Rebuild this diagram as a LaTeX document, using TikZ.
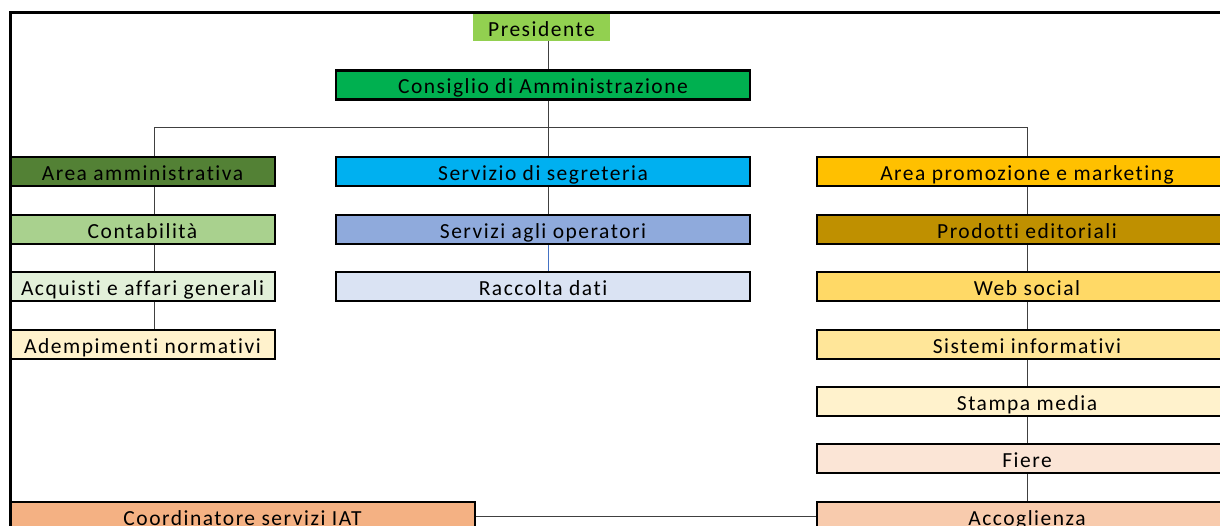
\documentclass[tikz,border=0pt]{standalone}
\usepackage{fontspec}
\setmainfont[LetterSpace=7,Ligatures=NoCommon]{Carlito}
\definecolor{cPres}{HTML}{92D050}
\definecolor{cCda}{HTML}{00B050}
\definecolor{cAmm}{HTML}{538135}
\definecolor{cSeg}{HTML}{00B0F0}
\definecolor{cProm}{HTML}{FFC000}
\definecolor{cCont}{HTML}{A9D18E}
\definecolor{cOper}{HTML}{8FAADC}
\definecolor{cEdit}{HTML}{BF9000}
\definecolor{cAcq}{HTML}{E2F0D9}
\definecolor{cRacc}{HTML}{DAE3F3}
\definecolor{cWeb}{HTML}{FFD966}
\definecolor{cAdem}{HTML}{FFF2CC}
\definecolor{cSist}{HTML}{FFE699}
\definecolor{cStam}{HTML}{FFF2CC}
\definecolor{cFier}{HTML}{FBE5D6}
\definecolor{cCoord}{HTML}{F4B183}
\definecolor{cAcc}{HTML}{F8CBAD}
\definecolor{cLine}{HTML}{404040}
\definecolor{cBlue}{HTML}{4472C4}
\tikzset{
  orgtext/.style={font=\fontsize{21.5}{24}\selectfont, text=black, text height=18pt, text depth=0pt},
  orgbox/.style={orgtext, draw=black, line width=2.5pt, minimum height=29pt, inner sep=0pt},
  leftbox/.style={orgbox, minimum width=265pt},
  midbox/.style={orgbox, minimum width=414pt},
  rightbox/.style={orgbox, minimum width=420pt},
  link/.style={draw=cLine, line width=1pt},
}
\begin{document}
\begin{tikzpicture}[x=1pt,y=-1pt]
\useasboundingbox (0,0) rectangle (1220,526);
\begin{scope}
\clip (0,0) rectangle (1220,526);
% columns
\coordinate (cl) at (154,0);
\coordinate (cm) at (548,0);
\coordinate (cr) at (1027,0);
% nodes
\node[orgtext, fill=cPres, minimum width=137pt, minimum height=27pt, inner sep=0pt] (pres) at (541.5,27.5) {Presidente};
\node[midbox, fill=cCda] (cda) at (543,85) {Consiglio di Amministrazione};
\node[leftbox, fill=cAmm] (amm) at (142.5,171.5) {Area amministrativa};
\node[midbox, fill=cSeg] (seg) at (543,171.5) {Servizio di segreteria};
\node[rightbox, fill=cProm] (prom) at (1027,171.5) {Area promozione e marketing};
\node[leftbox, fill=cCont] (cont) at (142.5,229.5) {Contabilità};
\node[midbox, fill=cOper] (oper) at (543,229.5) {Servizi agli operatori};
\node[rightbox, fill=cEdit] (edit) at (1027,229.5) {Prodotti editoriali};
\node[leftbox, fill=cAcq] (acq) at (142.5,286.5) {Acquisti e affari generali};
\node[midbox, fill=cRacc] (racc) at (543,286.5) {Raccolta dati};
\node[rightbox, fill=cWeb] (web) at (1027,286.5) {Web social};
\node[leftbox, fill=cAdem] (adem) at (142.5,344.5) {Adempimenti normativi};
\node[rightbox, fill=cSist] (sist) at (1027,344.5) {Sistemi informativi};
\node[rightbox, fill=cStam] (stam) at (1027,401.5) {Stampa media};
\node[rightbox, fill=cFier] (fier) at (1027,458.5) {Fiere};
\node[orgbox, minimum width=465pt, fill=cCoord] (coord) at (242.5,516.5) {Coordinatore servizi IAT};
\node[rightbox, fill=cAcc] (acc) at (1027,516.5) {Accoglienza};
\coordinate (bar) at (548,128);
% connectors
\draw[link] (pres.south -| cm) -- (cda.north -| cm);
\draw[link] (cda.south -| cm) -- (seg.north -| cm);
\draw[link] (amm.north -| cl) -- (bar -| cl) -- (bar -| cr) -- (prom.north -| cr);
\draw[link] (amm.south -| cl) -- (cont.north -| cl);
\draw[link] (cont.south -| cl) -- (acq.north -| cl);
\draw[link] (acq.south -| cl) -- (adem.north -| cl);
\draw[link] (seg.south -| cm) -- (oper.north -| cm);
\draw[draw=cBlue, line width=1pt] (oper.south -| cm) -- (racc.north -| cm);
\draw[link] (prom.south -| cr) -- (edit.north -| cr);
\draw[link] (edit.south -| cr) -- (web.north -| cr);
\draw[link] (web.south -| cr) -- (sist.north -| cr);
\draw[link] (sist.south -| cr) -- (stam.north -| cr);
\draw[link] (stam.south -| cr) -- (fier.north -| cr);
\draw[link] (fier.south -| cr) -- (acc.north -| cr);
\draw[link] (coord.east) -- (acc.west);
% frame
\draw[line width=3pt] (10,530) -- (10,13) -- (1225,13);
\end{scope}
\end{tikzpicture}
\end{document}
